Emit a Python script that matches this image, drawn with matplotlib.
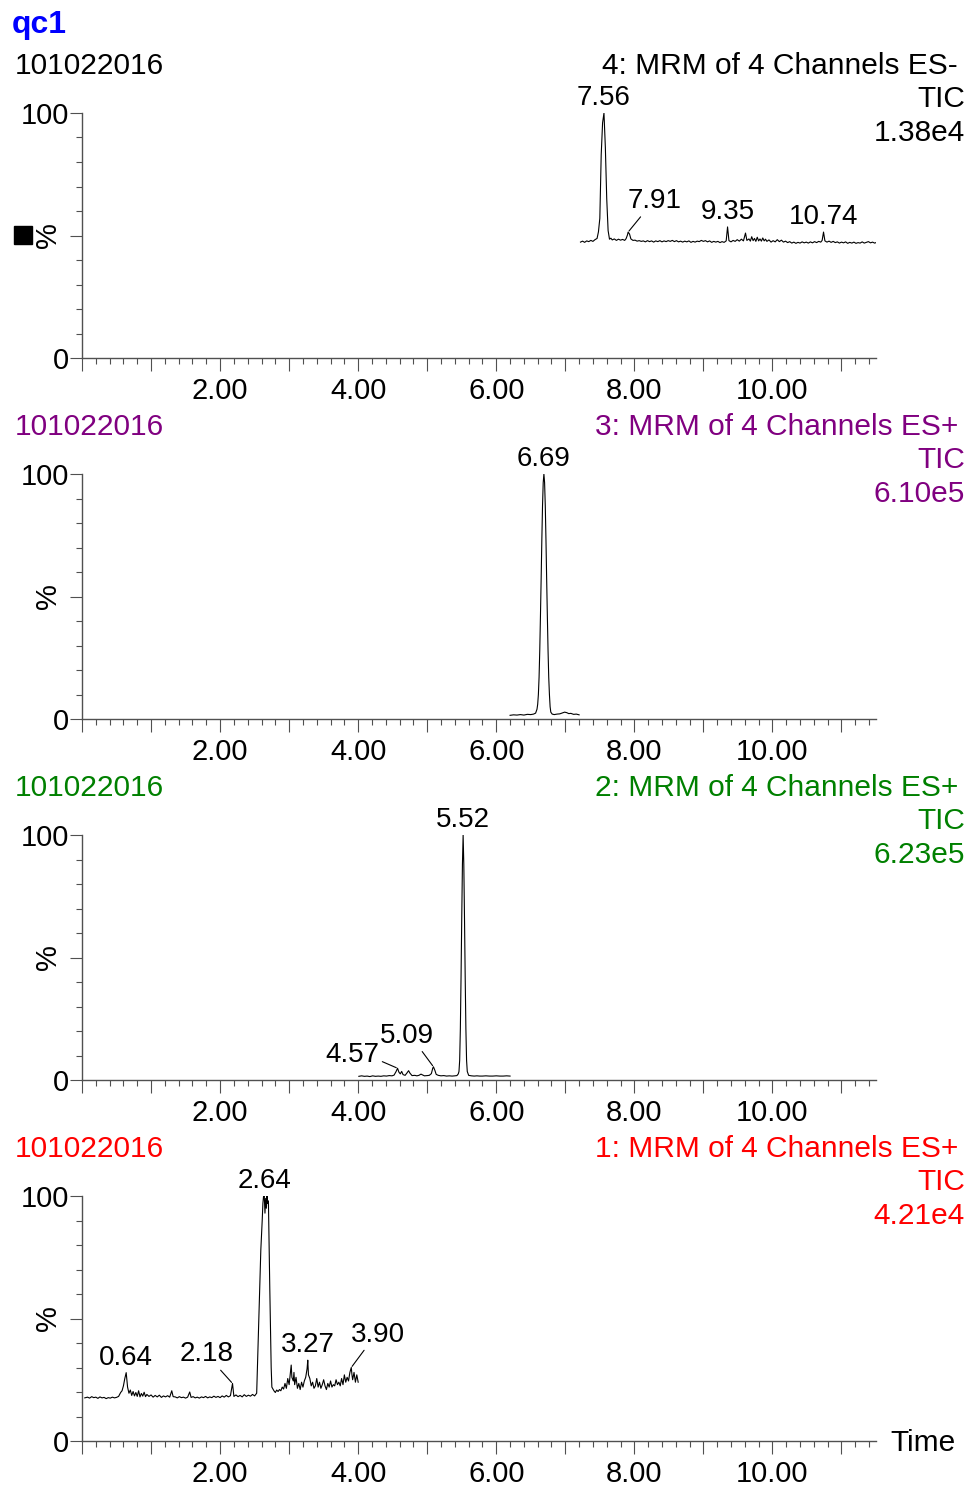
import matplotlib
matplotlib.use("Agg")
import matplotlib.pyplot as plt
from matplotlib.patches import Rectangle
from matplotlib.ticker import MultipleLocator, FixedLocator, FuncFormatter

plt.rcParams['font.family'] = ['Liberation Sans', 'DejaVu Sans']

W, H = 972, 1485

# ---- data: (retention time, % of channel max) ----
sample_name = "qc1"
run_id = "101022016"

trace_ch4 = [
    (7.22, 47.3), (7.25, 47.7), (7.28, 47.2), (7.31, 47.8), (7.34, 47.5), (7.37, 48.0),
    (7.40, 47.6), (7.43, 48.3), (7.46, 48.8), (7.48, 51.5), (7.50, 57.0), (7.52, 83.0),
    (7.54, 96.0), (7.56, 100.0), (7.58, 86.0), (7.60, 65.0), (7.62, 52.0), (7.64, 48.5),
    (7.66, 48.9), (7.68, 48.2), (7.71, 48.6), (7.74, 48.0), (7.77, 48.5), (7.80, 48.1),
    (7.83, 48.4), (7.86, 48.0), (7.88, 48.7), (7.90, 50.2), (7.91, 51.4), (7.93, 50.6),
    (7.95, 48.6), (7.98, 48.0), (8.01, 48.1), (8.04, 47.7), (8.07, 47.9), (8.10, 47.6),
    (8.13, 47.8), (8.16, 47.4), (8.19, 47.9), (8.22, 47.5), (8.25, 47.8), (8.28, 47.3),
    (8.31, 47.8), (8.34, 47.5), (8.37, 47.9), (8.40, 47.4), (8.43, 47.8), (8.46, 47.5),
    (8.49, 47.9), (8.52, 47.6), (8.55, 48.0), (8.58, 47.5), (8.61, 47.9), (8.64, 47.4),
    (8.67, 47.7), (8.70, 47.3), (8.73, 47.7), (8.76, 47.4), (8.79, 47.8), (8.82, 47.2),
    (8.85, 47.6), (8.88, 47.3), (8.91, 47.7), (8.94, 47.5), (8.97, 48.0), (9.00, 47.6),
    (9.03, 47.9), (9.06, 47.4), (9.09, 47.8), (9.12, 47.2), (9.15, 47.6), (9.18, 47.3),
    (9.21, 47.6), (9.24, 47.1), (9.27, 47.5), (9.30, 47.2), (9.33, 47.8), (9.35, 53.5),
    (9.37, 47.9), (9.40, 47.4), (9.43, 48.0), (9.46, 47.6), (9.49, 48.3), (9.52, 47.7),
    (9.55, 48.5), (9.58, 47.8), (9.61, 51.0), (9.63, 48.0), (9.66, 48.6), (9.68, 47.7),
    (9.70, 49.5), (9.72, 47.9), (9.74, 48.8), (9.76, 47.6), (9.78, 49.3), (9.80, 47.8),
    (9.82, 48.6), (9.84, 47.7), (9.86, 49.0), (9.88, 47.8), (9.90, 48.5), (9.92, 47.6),
    (9.95, 48.2), (9.98, 47.3), (10.01, 47.9), (10.04, 47.4), (10.07, 48.3), (10.10, 47.5),
    (10.13, 48.1), (10.16, 47.3), (10.19, 47.7), (10.22, 47.1), (10.25, 47.5), (10.28, 46.9),
    (10.31, 47.3), (10.34, 46.8), (10.37, 47.2), (10.40, 46.9), (10.43, 47.4), (10.46, 47.0),
    (10.49, 47.3), (10.52, 46.9), (10.55, 47.4), (10.58, 47.0), (10.61, 47.5), (10.64, 47.1),
    (10.67, 47.6), (10.70, 47.3), (10.72, 48.0), (10.74, 51.4), (10.76, 47.8), (10.79, 47.3),
    (10.82, 47.7), (10.85, 47.2), (10.88, 47.6), (10.91, 47.1), (10.94, 47.4), (10.97, 46.9),
    (11.00, 47.3), (11.03, 47.0), (11.06, 47.4), (11.09, 46.8), (11.12, 47.2), (11.15, 46.9),
    (11.18, 47.3), (11.21, 46.8), (11.24, 47.1), (11.27, 46.9), (11.30, 47.4), (11.33, 46.9),
    (11.36, 47.2), (11.39, 47.5), (11.42, 47.0), (11.45, 47.3), (11.48, 46.9), (11.50, 47.1),
]

trace_ch3 = [
    (6.20, 1.5), (6.25, 1.7), (6.30, 1.6), (6.35, 1.8), (6.40, 1.6), (6.45, 1.9),
    (6.50, 1.8), (6.54, 2.0), (6.57, 2.4), (6.59, 4.0), (6.60, 6.0), (6.61, 10.0),
    (6.62, 17.0), (6.63, 28.0), (6.64, 42.0), (6.65, 57.0), (6.66, 73.0), (6.67, 87.0),
    (6.68, 96.5), (6.69, 100.0), (6.70, 96.5), (6.71, 87.0), (6.72, 73.0), (6.73, 57.0),
    (6.74, 42.0), (6.75, 28.0), (6.76, 17.0), (6.77, 10.0), (6.78, 5.0), (6.79, 2.8),
    (6.81, 2.0), (6.84, 1.8), (6.88, 2.0), (6.92, 2.1), (6.96, 2.5), (6.99, 2.8),
    (7.02, 2.6), (7.05, 2.2), (7.08, 2.3), (7.12, 1.9), (7.16, 2.0), (7.20, 1.7),
]

trace_ch2 = [
    (4.01, 1.5), (4.05, 1.7), (4.09, 1.5), (4.13, 1.6), (4.17, 1.4), (4.21, 1.7),
    (4.25, 1.5), (4.29, 1.6), (4.33, 1.5), (4.37, 1.7), (4.41, 1.6), (4.45, 1.8),
    (4.49, 1.7), (4.52, 2.0), (4.55, 3.5), (4.57, 4.8), (4.59, 3.2), (4.61, 2.5),
    (4.63, 3.5), (4.65, 2.2), (4.68, 1.9), (4.71, 3.0), (4.73, 3.8), (4.75, 2.8),
    (4.78, 1.8), (4.82, 1.9), (4.85, 1.7), (4.88, 1.9), (4.91, 2.4), (4.93, 2.1),
    (4.96, 1.7), (5.00, 1.8), (5.03, 1.9), (5.06, 2.6), (5.08, 4.8), (5.09, 5.4),
    (5.11, 4.0), (5.13, 2.3), (5.16, 1.9), (5.20, 1.7), (5.24, 1.8), (5.28, 1.6),
    (5.32, 1.7), (5.36, 1.6), (5.40, 1.7), (5.43, 1.8), (5.45, 2.5), (5.46, 3.5),
    (5.47, 8.0), (5.48, 21.0), (5.49, 42.0), (5.50, 66.0), (5.51, 88.0), (5.52, 100.0),
    (5.53, 88.0), (5.54, 66.0), (5.55, 42.0), (5.56, 21.0), (5.57, 8.0), (5.58, 3.5),
    (5.60, 1.9), (5.64, 1.7), (5.68, 1.6), (5.72, 1.7), (5.76, 1.6), (5.80, 1.6),
    (5.85, 1.7), (5.90, 1.6), (5.95, 1.6), (6.00, 1.7), (6.05, 1.6), (6.10, 1.6),
    (6.15, 1.7), (6.20, 1.6),
]

trace_ch1 = [
    (0.04, 17.6), (0.08, 17.9), (0.11, 17.5), (0.14, 18.1), (0.17, 17.7), (0.20, 17.9),
    (0.23, 17.4), (0.26, 18.0), (0.29, 17.6), (0.32, 17.8), (0.35, 17.3), (0.38, 17.7),
    (0.41, 17.5), (0.44, 17.9), (0.47, 17.6), (0.50, 17.8), (0.53, 18.2), (0.56, 19.8),
    (0.58, 20.5), (0.60, 22.5), (0.62, 25.5), (0.64, 27.9), (0.66, 22.0), (0.68, 19.5),
    (0.70, 20.8), (0.72, 18.6), (0.74, 20.2), (0.76, 18.4), (0.78, 19.8), (0.80, 18.2),
    (0.82, 20.5), (0.84, 18.0), (0.86, 19.4), (0.88, 18.3), (0.90, 19.9), (0.92, 18.1),
    (0.94, 19.0), (0.97, 18.2), (1.00, 18.8), (1.03, 17.9), (1.06, 18.6), (1.09, 18.0),
    (1.12, 18.7), (1.15, 17.8), (1.18, 18.4), (1.21, 18.0), (1.24, 18.5), (1.27, 17.9),
    (1.30, 20.5), (1.32, 18.1), (1.35, 18.0), (1.38, 17.6), (1.41, 18.1), (1.44, 17.7),
    (1.47, 17.9), (1.50, 17.5), (1.53, 17.9), (1.56, 20.0), (1.58, 17.8), (1.61, 18.1),
    (1.64, 17.6), (1.67, 17.9), (1.70, 17.5), (1.73, 18.0), (1.76, 17.7), (1.79, 18.2),
    (1.82, 17.6), (1.85, 18.0), (1.88, 17.7), (1.91, 18.3), (1.94, 17.8), (1.97, 18.2),
    (2.00, 17.7), (2.03, 18.4), (2.06, 17.9), (2.09, 18.6), (2.12, 18.0), (2.15, 18.5),
    (2.18, 23.5), (2.20, 18.2), (2.23, 18.8), (2.26, 18.1), (2.29, 18.6), (2.32, 18.0),
    (2.35, 18.9), (2.38, 18.2), (2.41, 18.7), (2.44, 18.3), (2.47, 19.0), (2.50, 18.4),
    (2.53, 19.5), (2.56, 48.0), (2.59, 78.0), (2.61, 90.0), (2.62, 97.0), (2.63, 100.0),
    (2.64, 100.0), (2.65, 93.0), (2.66, 99.0), (2.67, 95.0), (2.68, 100.0), (2.69, 97.0),
    (2.70, 98.0), (2.72, 62.0), (2.74, 30.0), (2.75, 22.0), (2.76, 21.5), (2.78, 20.5),
    (2.80, 19.8), (2.82, 20.8), (2.84, 20.2), (2.86, 21.0), (2.88, 20.5), (2.90, 22.0),
    (2.92, 21.2), (2.94, 23.5), (2.96, 21.5), (2.98, 25.5), (3.00, 23.0), (3.02, 28.5),
    (3.03, 31.0), (3.04, 26.0), (3.06, 24.5), (3.07, 28.0), (3.08, 23.0), (3.10, 26.0),
    (3.12, 21.5), (3.14, 23.5), (3.16, 21.0), (3.18, 24.0), (3.20, 22.0), (3.22, 24.5),
    (3.24, 26.0), (3.26, 29.5), (3.27, 33.0), (3.28, 27.0), (3.30, 25.5), (3.32, 22.5),
    (3.34, 24.0), (3.36, 21.5), (3.38, 22.5), (3.40, 25.5), (3.42, 22.0), (3.44, 24.0),
    (3.46, 21.5), (3.48, 23.0), (3.50, 25.0), (3.52, 22.5), (3.54, 21.0), (3.56, 23.5),
    (3.58, 22.0), (3.60, 24.5), (3.62, 22.0), (3.64, 23.0), (3.66, 22.5), (3.68, 25.0),
    (3.70, 23.0), (3.72, 24.0), (3.74, 22.5), (3.76, 25.5), (3.78, 23.0), (3.80, 27.0),
    (3.82, 24.0), (3.84, 26.0), (3.86, 24.5), (3.88, 28.0), (3.90, 30.0), (3.91, 27.0),
    (3.92, 25.0), (3.94, 28.0), (3.96, 24.0), (3.98, 27.0), (4.00, 24.0),
]

peaks_ch4 = [7.56, 7.91, 9.35, 10.74]
peaks_ch3 = [6.69]
peaks_ch2 = [4.57, 5.09, 5.52]
peaks_ch1 = [0.64, 2.18, 2.64, 3.27, 3.90]

titles = ["4: MRM of 4 Channels ES-", "3: MRM of 4 Channels ES+",
          "2: MRM of 4 Channels ES+", "1: MRM of 4 Channels ES+"]
scales = ["1.38e4", "6.10e5", "6.23e5", "4.21e4"]
colors = ["black", "#800080", "#008000", "#ff0000"]
traces = [trace_ch4, trace_ch3, trace_ch2, trace_ch1]
peaks = [peaks_ch4, peaks_ch3, peaks_ch2, peaks_ch1]

# label placement: offset (px) of text centre from the apex, leader anchor on text box
label_pos = {
    7.91: (26, 32, (0.35, 0.15)), 5.09: (-27, 32, (0.7, 0.15)),
    4.57: (-45, 14, (1.0, 0.3)), 2.18: (-26, 30, (0.65, 0.15)),
    3.90: (27, 34, (0.33, 0.15)),
}

fig = plt.figure(figsize=(W / 100, H / 100), dpi=100)

axis_col = "#505050"
tops = [113, 474, 835, 1196]
ax_left, ax_right, ax_h = 82, 876, 245
hdr_size = 21.5

for i in range(4):
    top = tops[i]
    ax = fig.add_axes([ax_left / W, 1 - (top + ax_h) / H, (ax_right - ax_left) / W, ax_h / H])
    t = [p[0] for p in traces[i]]
    y = [p[1] for p in traces[i]]
    ax.plot(t, y, color="black", lw=0.8)
    ax.set_xlim(0, 11.5)
    ax.set_ylim(0, 100)

    for s in ["top", "right"]:
        ax.spines[s].set_visible(False)
    for s in ["left", "bottom"]:
        ax.spines[s].set_color(axis_col)
        ax.spines[s].set_linewidth(1.0)

    ax.xaxis.set_major_locator(MultipleLocator(1))
    ax.xaxis.set_minor_locator(MultipleLocator(0.2))
    ax.xaxis.set_major_formatter(FuncFormatter(
        lambda v, p: f"{v:.2f}" if v > 0 and round(v) % 2 == 0 else ""))
    ax.yaxis.set_major_locator(FixedLocator([0, 50, 100]))
    ax.yaxis.set_minor_locator(MultipleLocator(10))
    ax.yaxis.set_major_formatter(FuncFormatter(
        lambda v, p: {0: "0", 100: "100"}.get(int(round(v)), "")))
    ax.tick_params(axis="x", which="major", length=9.4, width=0.8, color=axis_col,
                   labelsize=21, pad=4)
    ax.tick_params(axis="x", which="minor", length=4.3, width=0.8, color=axis_col)
    ax.tick_params(axis="y", which="major", length=8.6, width=0.8, color=axis_col,
                   labelsize=21, pad=1)
    ax.tick_params(axis="y", which="minor", length=4.3, width=0.8, color=axis_col)

    ax.text(-0.043, 0.5, "%", transform=ax.transAxes, rotation=90,
            ha="center", va="center", fontsize=21)

    # peak labels
    lookup = dict(traces[i])
    for pk in peaks[i]:
        py = lookup[pk]
        dx, dy, rel = label_pos.get(pk, (0, 16, None))
        kw = {}
        if rel is not None:
            kw["arrowprops"] = dict(arrowstyle="-", color="black", lw=0.8,
                                    shrinkA=0, shrinkB=1, relpos=rel)
        ax.annotate(f"{pk:.2f}", xy=(pk, py), xytext=(dx, dy - 1),
                    textcoords="offset pixels", ha="center", va="center",
                    fontsize=20, annotation_clip=False, **kw)

    # headers
    hy = 1 - (top - 47) / H
    fig.text(15 / W, hy, run_id, color=colors[i], fontsize=hdr_size, ha="left", va="center")
    fig.text(958 / W, hy, titles[i], color=colors[i], fontsize=hdr_size, ha="right", va="center")
    fig.text(965 / W, 1 - (top - 14) / H, "TIC", color=colors[i], fontsize=hdr_size,
             ha="right", va="center")
    fig.text(965 / W, 1 - (top + 20) / H, scales[i], color=colors[i], fontsize=hdr_size,
             ha="right", va="center")

fig.text(12 / W, 1 - 25 / H, sample_name, color="#0000ff", fontsize=23,
         fontweight="bold", ha="left", va="center")
fig.patches.append(Rectangle((14 / W, 1 - 244 / H), 18 / W, 18 / H,
                             transform=fig.transFigure, color="black"))
fig.text(890 / W, 1 - 1443 / H, "Time", fontsize=hdr_size, ha="left", va="center")

fig.savefig("out.png", dpi=100)
